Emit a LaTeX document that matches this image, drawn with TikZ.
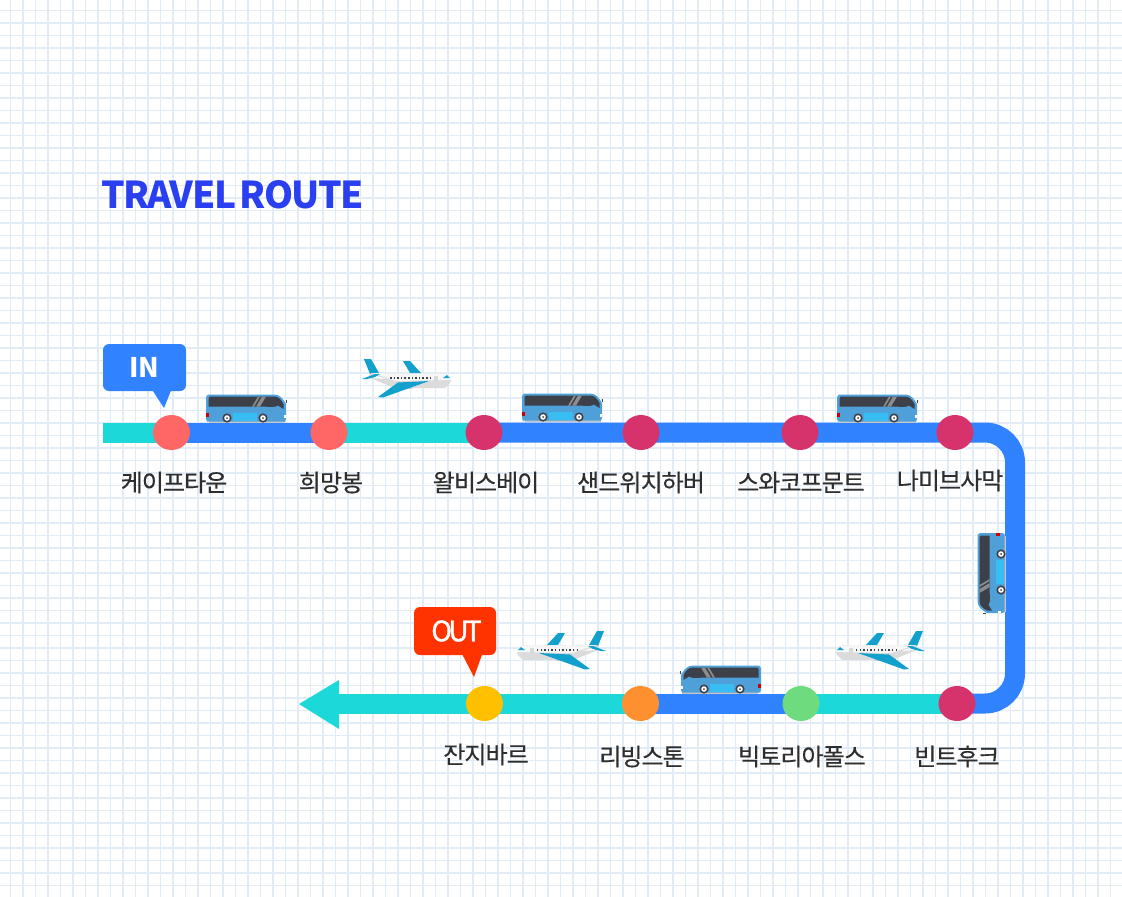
\documentclass[tikz,border=0pt]{standalone}
\usepackage{fontspec}
\setmainfont{Noto Sans CJK KR}
\newfontfamily\placefont[LetterSpace=-4,FakeBold=0.35]{Noto Sans CJK KR}
\newfontfamily\titlefont[LetterSpace=-4,WordSpace=0.45]{Noto Sans CJK KR}
\newfontfamily\outfont[LetterSpace=-13,FakeBold=1.4]{Noto Sans CJK KR}
\usetikzlibrary{positioning,shapes.geometric,backgrounds}
\definecolor{lineblue}{HTML}{3182FF}
\definecolor{lineteal}{HTML}{1DD8D8}
\definecolor{gridblue}{HTML}{E2ECF6}
\definecolor{stopcoral}{HTML}{FF6666}
\definecolor{stoprose}{HTML}{D6336C}
\definecolor{stopgreen}{HTML}{6EDC7E}
\definecolor{stoporange}{HTML}{FF9030}
\definecolor{stopyellow}{HTML}{FFC000}
\definecolor{titleblue}{HTML}{2A3FF0}
\definecolor{tagred}{HTML}{FF3300}
\definecolor{busblue}{HTML}{4F9FD8}
\definecolor{buslight}{HTML}{38BDF2}
\definecolor{buswin}{HTML}{3D4048}
\definecolor{wingblue}{HTML}{12A0CC}

\begin{document}
\begin{tikzpicture}[
  x=1pt,y=-1pt,
  stop/.style={ellipse,minimum width=37pt,minimum height=35pt,inner sep=0pt},
  place/.style={font=\placefont\fontsize{24}{24}\selectfont,text=black!82,inner sep=0pt},
  seg/.style={line width=20pt},
  tag/.style={rounded corners=6pt,minimum width=83pt,minimum height=47pt,inner sep=0pt,text=white},
  bus/.pic={
    \fill[black!22] (3,27) rectangle (79,29);
    \fill[busblue] (0,3) to[out=-90,in=180] (2,0.5) -- (68,0.5) to[out=0,in=120] (80,10) -- (80,25) -- (79,27.5) -- (1,27.5) -- (0,25) -- cycle;
    \fill[buswin] (2.5,4) to[out=-90,in=180] (4,2.5) -- (68,2.5) to[out=0,in=120] (77.5,10) -- (77.5,15) -- (72,11.5) to[out=-150,in=0] (60,12.7) -- (2.5,12.7) -- cycle;
    \fill[black!45] (46,12.7) -- (52,2.5) -- (54,2.5) -- (48,12.7) -- cycle;
    \fill[black!45] (50,12.7) -- (56,2.5) -- (60,2.5) -- (54,12.7) -- cycle;
    \fill[buslight] (27,19) rectangle (51,26.5);
    \fill[red!80!black] (0,19) rectangle (3,23);
    \fill[white] (78,21) rectangle (80,24);
    \fill[buswin] (80,6) rectangle (81,9);
    \foreach \wx in {21,57} {
      \fill[buswin] (\wx,24) circle (4.6pt);
      \fill[white] (\wx,24) circle (2.8pt);
      \fill[buswin] (\wx,24) circle (1pt);
    }
  },
  plane/.pic={
    \fill[black!14] (15,28) -- (40,38) -- (90,38) -- (95,33) -- cycle;
    \fill[wingblue] (9,9) -- (16,9) -- (24,23) -- (15,24) -- cycle;
    \fill[wingblue] (48,11) -- (55,11) -- (66,23) -- (55,23) -- cycle;
    \fill[black!14] (16,23) to[out=0,in=180] (40,23.5) -- (88,23.5) to[out=0,in=90] (96,30) to[out=-90,in=0] (88,35) -- (50,35) to[out=180,in=10] (14,26) -- cycle;
    \fill[black!3] (18,23) to[out=0,in=180] (40,23.5) -- (88,23.5) to[out=0,in=90] (96,30) -- (40,31) -- cycle;
    \fill[wingblue] (7,29) -- (20,24) -- (25,24) -- (20,27) -- (12,29) -- cycle;
    \fill[black!20] (43,35) rectangle (57,39);
    \fill[wingblue] (23,47) -- (28,47.5) -- (74,31) -- (43,32.5) -- cycle;
    \fill[wingblue] (88,28) -- (92,25) -- (95,28) -- cycle;
    \fill[black!15] (79,26) rectangle (83,33);
    \foreach \px in {35,38.6,...,76} {
      \fill[buswin] (\px,26.5) rectangle +(1.5,2.6);
    }
  }
]
  \useasboundingbox (0,0) rectangle (1122,897);

  \node[text=titleblue,font=\titlefont\bfseries\fontsize{37}{37}\selectfont,anchor=west,inner sep=0pt] (title) at (101,195) {TRAVEL ROUTE};

  \node[stop,fill=stopcoral] (cape) at (171.5,432.5) {};
  \node[stop,fill=stopcoral] (hope) at (329,432.5) {};
  \node[stop,fill=stoprose] (walvis) at (484,432.5) {};
  \node[stop,fill=stoprose] (sandwich) at (641,432.5) {};
  \node[stop,fill=stoprose] (swakop) at (800,432.5) {};
  \node[stop,fill=stoprose] (namib) at (955,432.5) {};
  \node[stop,fill=stoprose] (windhoek) at (957,703.5) {};
  \node[stop,fill=stopgreen] (victoria) at (801,703.5) {};
  \node[stop,fill=stoporange] (living) at (640.5,703.5) {};
  \node[stop,fill=stopyellow] (zanzibar) at (484.5,703.5) {};

  \coordinate (start) at (103,432.5);
  \coordinate (shaftend) at (339,703.5);
  \coordinate (arrowtip) at (299,704);
  \coordinate (cornertop) at (1015,432.5);
  \coordinate (cornerbot) at (1015,703.5);

  \begin{scope}[on background layer]
    \fill[white] (0,0) rectangle (1122,897);
    % paper grid
    \foreach \k in {0,...,89} {
      \draw[gridblue,line width=1.2pt] (10.5+12.5*\k,0) -- (10.5+12.5*\k,897);
    }
    \foreach \k in {0,...,71} {
      \draw[gridblue,line width=1.2pt] (0,10.5+12.5*\k) -- (1122,10.5+12.5*\k);
    }
    \draw[seg,lineteal] (start) -- (cape.center);
    \draw[seg,lineblue] (cape.center) -- (hope.center);
    \draw[seg,lineteal] (hope.center) -- (walvis.center);
    \draw[seg,lineblue,rounded corners=30pt] (walvis.center) -- (cornertop) -- (cornerbot) -- (windhoek.center);
    \draw[seg,lineteal] (windhoek.center) -- (victoria.center);
    \draw[seg,lineblue] (victoria.center) -- (living.center);
    \draw[seg,lineteal] (living.center) -- (shaftend);
    \fill[lineteal] (arrowtip) -- (339,680) -- (339,729) -- cycle;
  \end{scope}

  \node[place] (capelbl) at (174,482.5) {케이프타운};
  \node[place] (hopelbl) at (331,482.5) {희망봉};
  \node[place] (walvislbl) at (486,482.5) {왈비스베이};
  \node[place] (sandwichlbl) at (641,482.5) {샌드위치하버};
  \node[place] (swakoplbl) at (801,482.5) {스와코프문트};
  \node[place] (namiblbl) at (950,480.5) {나미브사막};
  \node[place] (windhoeklbl) at (957,756.5) {빈트후크};
  \node[place] (victorialbl) at (802,756.5) {빅토리아폴스};
  \node[place] (livinglbl) at (642,756.5) {리빙스톤};
  \node[place] (zanzibarlbl) at (486,754.5) {잔지바르};

  \fill[lineblue] (151,388) -- (164,408) -- (172,388) -- cycle;
  \node[tag,fill=lineblue,font=\bfseries\fontsize{27}{27}\selectfont] (intag) at (144.5,367.5) {IN};
  \fill[tagred] (461,652) -- (474,677) -- (483,652) -- cycle;
  \node[tag,fill=tagred,font=\outfont\fontsize{28}{28}\selectfont,minimum width=82pt,minimum height=48pt] (outtag) at (455,631) {\hspace{3pt}OUT};

  \pic at (206,394) {bus};
  \pic at (522,393) {bus};
  \pic at (837,394) {bus};
  \pic[rotate=90,xscale=-1] at (977,533) {bus};
  \pic[xscale=-1] at (761,665) {bus};

  \pic at (355,350) {plane};
  \pic[xscale=-1] at (613,622) {plane};
  \pic[xscale=-1] at (932,622) {plane};
\end{tikzpicture}
\end{document}
